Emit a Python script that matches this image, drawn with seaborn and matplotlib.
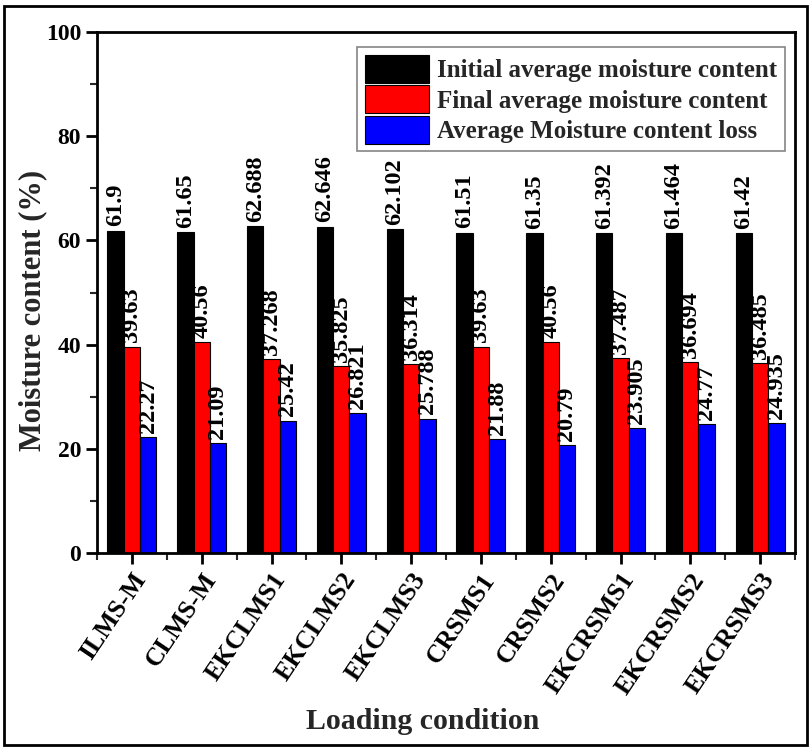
import matplotlib
matplotlib.use("Agg")
import matplotlib.pyplot as plt
import seaborn as sns
import pandas as pd
from matplotlib.patches import Rectangle
from matplotlib.ticker import MultipleLocator, FixedLocator

conditions = ["ILMS-M", "CLMS-M", "EKCLMS1", "EKCLMS2", "EKCLMS3",
              "CRSMS1", "CRSMS2", "EKCRSMS1", "EKCRSMS2", "EKCRSMS3"]
initial = [61.9, 61.65, 62.688, 62.646, 62.102, 61.51, 61.35, 61.392, 61.464, 61.42]
final = [39.63, 40.56, 37.268, 35.825, 36.314, 39.63, 40.56, 37.487, 36.694, 36.485]
loss = [22.27, 21.09, 25.42, 26.821, 25.788, 21.88, 20.79, 23.905, 24.77, 24.935]
series_names = ["Initial average moisture content",
                "Final average moisture content",
                "Average Moisture content loss"]
colors = ["#000000", "#ff0000", "#0000ff"]

df = pd.DataFrame({
    "condition": conditions * 3,
    "value": initial + final + loss,
    "series": [series_names[0]] * 10 + [series_names[1]] * 10 + [series_names[2]] * 10,
})

sns.set_theme(style="ticks")
plt.rcParams["font.family"] = ["Liberation Serif", "DejaVu Serif"]
plt.rcParams["font.weight"] = "bold"

fig = plt.figure(figsize=(8.11, 7.51), dpi=100)
ax = fig.add_axes([97 / 811, 1 - 553 / 751, (795 - 97) / 811, (553 - 32) / 751])

sns.barplot(data=df, x="condition", y="value", hue="series",
            palette=colors, width=0.7, gap=0, edgecolor="black",
            linewidth=0.8, saturation=1, ax=ax, errorbar=None)

# value annotations on top of each bar
for cont in ax.containers:
    labels = [f"{v:g}" for v in cont.datavalues]
    ax.bar_label(cont, labels=labels, rotation=90, padding=3,
                 fontsize=17.5, fontweight="bold", color="black")

ax.set_xlim(-0.5, 9.5)
ax.set_ylim(0, 100)
ax.yaxis.set_major_locator(MultipleLocator(20))
ax.yaxis.set_minor_locator(MultipleLocator(10))
ax.xaxis.set_minor_locator(FixedLocator([i + 0.5 for i in range(-1, 10)]))

for side in ["top", "right", "bottom", "left"]:
    ax.spines[side].set_visible(True)
    ax.spines[side].set_linewidth(2)
    ax.spines[side].set_color("black")

ax.tick_params(axis="both", which="major", direction="out", length=8, width=2,
               labelsize=17, colors="black")
ax.tick_params(axis="x", which="major", labelsize=18.5)
ax.tick_params(axis="both", which="minor", direction="out", length=5, width=1.5)
ax.tick_params(axis="both", which="both", top=False, right=False)
for lab in ax.get_yticklabels():
    lab.set_fontweight("bold")
plt.setp(ax.get_xticklabels(), rotation=56, ha="right", rotation_mode="anchor",
         fontweight="bold")

ax.set_xlabel("Loading condition", fontsize=21.5, fontweight="bold")
ax.xaxis.set_label_coords(0.467, -0.297)
ax.set_ylabel("Moisture content (%)", fontsize=22, fontweight="bold")
ax.yaxis.set_label_coords(-0.0716, 0.465)

leg = ax.legend(loc="upper right", bbox_to_anchor=(0.9857, 0.971), borderaxespad=0,
                prop={"weight": "bold", "size": 18}, frameon=True, fancybox=False,
                handlelength=2.55, handleheight=1.35, handletextpad=0.35,
                labelspacing=0.1, borderpad=0.3, title=None)
leg.get_frame().set_edgecolor("#666666")
leg.get_frame().set_linewidth(1.2)

fig.patches.append(Rectangle((4 / 811, 6 / 751), 803 / 811, 739 / 751,
                             transform=fig.transFigure, fill=False,
                             edgecolor="black", linewidth=2))

fig.savefig("out.png", dpi=100, facecolor="white")
